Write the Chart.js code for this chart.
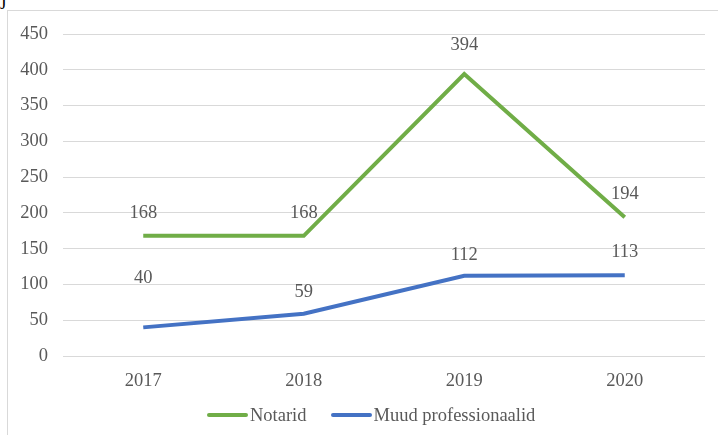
<!DOCTYPE html>
<html>
<head>
<meta charset="utf-8">
<script src="https://cdn.jsdelivr.net/npm/chart.js@4"></script>
<style>
  html, body { margin: 0; padding: 0; background: #fff; }
  #wrap { position: relative; width: 718px; height: 435px; overflow: hidden; }
  #frame { position: absolute; left: 7px; top: 10px; width: 720px; height: 440px; border: 1px solid #d9d9d9; box-sizing: border-box; }
  #jchar { position: absolute; left: 1px; top: -14px; font: 20px "Liberation Serif", serif; color: #000; }
  canvas { position: absolute; left: 0; top: 0; }
  #legend { position: absolute; left: 207px; top: 404px; height: 22px; display: flex; align-items: center;
            font: 18.5px "Liberation Serif", "Times New Roman", serif; color: #595959; white-space: nowrap; }
  #legend .item { display: flex; align-items: center; margin-right: 24px; }
  #legend .swatch { display: inline-block; width: 41px; height: 4px; border-radius: 2px; margin-right: 2px; }
</style>
</head>
<body>
<div id="wrap">
  <div id="jchar">j</div>
  <div id="frame"></div>
  <canvas id="myChart" width="718" height="435"></canvas>
  <div id="legend"></div>
</div>
<script>
// andmed
var aastad = ['2017', '2018', '2019', '2020'];
var notarid = [168, 168, 394, 194];
var muud = [40, 59, 112, 113];
var yTicks = [0, 50, 100, 150, 200, 250, 300, 350, 400, 450];

var fontName = '"Liberation Serif", "Times New Roman", serif';
var textColor = '#595959';
var fSize = 18.5;

// vaartuste sildid punktide kohal
var sildid = {
  id: 'sildid',
  afterDatasetsDraw: function(chart) {
    var ctx = chart.ctx;
    ctx.save();
    ctx.font = fSize + 'px ' + fontName;
    ctx.fillStyle = textColor;
    ctx.textAlign = 'center';
    ctx.textBaseline = 'middle';
    chart.data.datasets.forEach(function(ds, i) {
      var meta = chart.getDatasetMeta(i);
      meta.data.forEach(function(pt, j) {
        var nihe = (ds.labelNihe && ds.labelNihe[j]) || 23;
        ctx.fillText(ds.data[j], pt.x, pt.y - nihe);
      });
    });
    ctx.restore();
  }
};

var ctx = document.getElementById('myChart').getContext('2d');
var myChart = new Chart(ctx, {
  type: 'line',
  data: {
    labels: aastad,
    datasets: [{
      label: 'Notarid',
      data: notarid,
      borderColor: '#70AD47',
      backgroundColor: '#70AD47',
      borderWidth: 4,
      pointRadius: 0,
      tension: 0,
      labelNihe: [23, 23, 29, 23]
    }, {
      label: 'Muud professionaalid',
      data: muud,
      borderColor: '#4472C4',
      backgroundColor: '#4472C4',
      borderWidth: 4,
      pointRadius: 0,
      tension: 0,
      labelNihe: [49, 22, 21, 23]
    }]
  },
  options: {
    responsive: false,
    animation: false,
    layout: { padding: { left: 0, right: 13, top: 34, bottom: 39 } },
    plugins: {
      tooltip: { enabled: false },
      legend: { display: false }
    },
    scales: {
      x: {
        offset: true,
        grid: { display: false },
        border: { display: false },
        ticks: { font: { family: fontName, size: fSize }, color: textColor, padding: 6 },
        afterFit: function(scale) { scale.height = 40; }
      },
      y: {
        min: 0,
        max: 450,
        afterBuildTicks: function(scale) {
          scale.ticks = yTicks.map(function(v) { return { value: v }; });
        },
        grid: { color: '#d9d9d9', lineWidth: 1, drawTicks: false },
        border: { display: false },
        ticks: { font: { family: fontName, size: fSize }, color: textColor, padding: 15 },
        afterFit: function(scale) { scale.width = 63; }
      }
    }
  },
  plugins: [sildid]
});

// legend andmeseeriatest
var leg = document.getElementById('legend');
myChart.data.datasets.forEach(function(ds) {
  var item = document.createElement('span');
  item.className = 'item';
  var sw = document.createElement('span');
  sw.className = 'swatch';
  sw.style.background = ds.borderColor;
  item.appendChild(sw);
  item.appendChild(document.createTextNode(ds.label));
  leg.appendChild(item);
});
</script>
</body>
</html>
